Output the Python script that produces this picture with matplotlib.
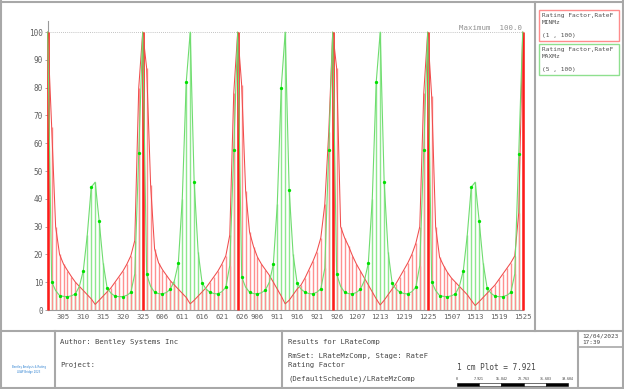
import numpy as np
import matplotlib
matplotlib.use('Agg')
import matplotlib.pyplot as plt
from matplotlib.lines import Line2D
from matplotlib.patches import Rectangle

W, H = 624, 389

# node numbering of the five spans and the labelled nodes
span_base = [300, 600, 900, 1200, 1500]
tick_nodes = [[305, 310, 315, 320, 325],
              [606, 611, 616, 621, 626],
              [906, 911, 916, 921, 926],
              [1207, 1213, 1219, 1225],
              [1507, 1513, 1519, 1525]]

# rating factor at the six supports (capped at 100)
support_rf = [100, 100, 100, 100, 100, 100]

# MINMz rating factor, interior nodes of each span
min_mz = [
    [66, 30, 20, 16.5, 14.2, 12, 10, 8.5, 7, 5.5, 4, 2, 3.5, 5, 6.5, 8, 10, 12, 14, 16.5, 19.5, 25, 80],
    [87, 45, 22, 17, 14.5, 12.5, 10.5, 9, 7.5, 6, 4.5, 2.2, 3.5, 5, 6.5, 8, 10, 12, 14, 16.5, 19.5, 27, 78],
    [81, 43, 28, 22.8, 19, 16.5, 14.5, 12.5, 10, 7.5, 5, 2.2, 3.5, 5.5, 7.5, 9, 11.5, 14.5, 17.5, 21, 26, 38, 64],
    [87, 30, 26, 23, 19.5, 16.5, 14, 11.5, 9, 6.5, 4, 1.8, 3.5, 5.5, 7.5, 9.5, 12, 14.5, 17, 20, 24, 30, 78],
    [77, 30, 19, 16, 13.5, 11.5, 10, 8.5, 7, 5.5, 3.5, 1.6, 3, 4.5, 6, 7.5, 9, 11, 13, 15, 17, 19.5, 35],
]

# MAXMz rating factor, interior nodes of each span
max_mz = [
    [10.2, 7, 5.2, 4.9, 4.8, 5.1, 5.8, 8.5, 14.2, 27, 44.2, 46, 32, 17, 8, 6, 5, 4.8, 4.8, 5.3, 6.3, 13, 56.4],
    [12.8, 8.5, 6.4, 5.9, 5.8, 6.3, 7.5, 10.5, 16.8, 40, 82, 100, 46, 21, 9.8, 7.5, 6.4, 5.9, 5.8, 6.6, 8.2, 16, 57.4],
    [11.9, 8.2, 6.4, 5.9, 5.8, 6.2, 7.2, 10, 16.4, 38, 80, 100, 43.2, 20, 9.8, 7.5, 6.4, 5.9, 5.8, 6.4, 7.6, 15, 57.5],
    [12.9, 8.5, 6.4, 5.9, 5.8, 6.3, 7.5, 10.5, 16.8, 40, 82.1, 100, 46, 21, 9.8, 7.5, 6.4, 5.9, 5.8, 6.6, 8.2, 16, 57.5],
    [10.2, 7, 5.2, 4.9, 4.8, 5.1, 5.8, 8.5, 14.2, 27, 44.2, 46, 32, 17, 8, 6, 5, 4.8, 4.8, 5.3, 6.3, 13, 56.2],
]

NSEG = len(min_mz[0]) + 1


def build(spans):
    vals = [support_rf[0]]
    for k, s in enumerate(spans):
        vals += s + [support_rf[k + 1]]
    return np.array(vals, float)


red = build(min_mz)
green = build(max_mz)
x = np.arange(len(red))
sup = np.arange(0, len(red), NSEG)
mk = np.array([k * NSEG + j for k in range(5) for j in range(1, NSEG, 2)])

tick_pos = [NSEG * k + (n - span_base[k] - 1) for k in range(5) for n in tick_nodes[k]]
tick_lab = [str(n) for row in tick_nodes for n in row]


def fx(px):
    return px / W


def fy(py):
    return 1 - py / H


fig = plt.figure(figsize=(W / 100, H / 100), dpi=100)
mono = 'DejaVu Sans Mono'

ax = fig.add_axes([fx(47.7), fy(310), (522.7 - 47.7) / W, (310 - 21) / H])
ax.set_xlim(0, x[-1])
ax.set_ylim(0, 104)

ax.vlines(x, 0, green, colors='#8ee88e', lw=1.0, clip_on=False)
ax.vlines(x, 0, red, colors='#ff9090', lw=1.0, clip_on=False)
ax.vlines(x[sup], 0, red[sup], colors='#ff1a1a', lw=1.8, clip_on=False, zorder=3)
ax.plot(x, red, color='#f04c4c', lw=0.75, clip_on=False, zorder=4)
ax.plot(x, green, color='#6fdc6f', lw=0.8, clip_on=False, zorder=4)
ax.plot(x[mk], green[mk], 'o', color='#00e000', ms=2.4, mec='none', zorder=5)
ax.axhline(100, color='#b0b0b0', ls=(0, (1, 1.5)), lw=0.6, zorder=1)

for s in ['top', 'right']:
    ax.spines[s].set_visible(False)
for s in ['left', 'bottom']:
    ax.spines[s].set_color('#9a9a9a')
    ax.spines[s].set_linewidth(0.8)
ax.set_yticks(np.arange(0, 101, 10))
ax.set_yticklabels([str(v) for v in range(0, 101, 10)], fontsize=5.6, family=mono, color='#606060')
ax.tick_params(axis='y', length=2, width=0.6, color='#9a9a9a', pad=1.5)
ax.set_xticks(tick_pos)
ax.set_xticklabels(tick_lab, fontsize=5.2, family=mono, color='#606060')
ax.tick_params(axis='x', length=0, pad=3)

fig.text(fx(522), fy(28.5), 'Maximum  100.0', fontsize=5.3, family=mono, color='#909090',
         ha='right', va='center')

# frames of the drawing sheet
def hline(y, x0, x1, lw=1.5):
    fig.add_artist(Line2D([fx(x0), fx(x1)], [fy(y), fy(y)], color='#a8a8a8', lw=lw))


def vline(xp, y0, y1, lw=1.5):
    fig.add_artist(Line2D([fx(xp), fx(xp)], [fy(y0), fy(y1)], color='#a8a8a8', lw=lw))


hline(1.5, 0, W)
hline(387.5, 0, W)
vline(1, 0, H)
vline(622.5, 0, H)
vline(535, 1.5, 331)
hline(331, 0, W)
vline(55, 331, 387.5)
vline(282, 331, 387.5)
vline(578, 331, 387.5)
hline(347, 578, 622.5, lw=1.2)

# legend boxes
legend_rows = [('Rating Factor,RateF', 'MINMz', '(1 , 100)', '#ff8c8c', 10),
               ('Rating Factor,RateF', 'MAXMz', '(5 , 100)', '#8fe08f', 43.5)]
for t1, t2, t3, col, top in legend_rows:
    fig.add_artist(Rectangle((fx(538.5), fy(top + 31)), (618.5 - 538.5) / W, 31 / H,
                             transform=fig.transFigure, fill=False, ec=col, lw=1.0))
    fig.text(fx(542), fy(top + 5.7), t1, fontsize=4.5, family=mono, color='#505050', va='center')
    fig.text(fx(542), fy(top + 12.7), t2, fontsize=4.5, family=mono, color='#505050', va='center')
    fig.text(fx(542), fy(top + 25.7), t3, fontsize=4.5, family=mono, color='#505050', va='center')

# title block
tb = dict(fontsize=5.2, family=mono, color='#454545', va='center')
fig.text(fx(60), fy(342), 'Author: Bentley Systems Inc', **tb)
fig.text(fx(60), fy(365.5), 'Project:', **tb)
fig.text(fx(288), fy(342), 'Results for LRateComp', **tb)
fig.text(fx(288), fy(356), 'RmSet: LRateMzComp, Stage: RateF', **tb)
fig.text(fx(288), fy(365), 'Rating Factor', **tb)
fig.text(fx(288), fy(379), '(DefaultSchedule)/LRateMzComp', **tb)
fig.text(fx(457), fy(368), '1 cm Plot = 7.921', fontsize=5.6, family=mono, color='#454545', va='center')
fig.text(fx(582), fy(336.5), '12/04/2023', fontsize=4.3, family=mono, color='#454545', va='center')
fig.text(fx(582), fy(342.5), '17:39', fontsize=4.3, family=mono, color='#454545', va='center')
fig.text(fx(28.5), fy(367), 'Bentley Analysis & Rating', fontsize=1.9, color='#2a7fd0',
         ha='center', va='center')
fig.text(fx(28.5), fy(371.5), 'LEAP Bridge 2023', fontsize=1.9, color='#2a7fd0',
         ha='center', va='center')

# scale bar
scale_marks = ['0', '7.921', '15.842', '23.763', '31.683', '39.604']
bx0, bx1 = 457, 568
seg = (bx1 - bx0) / (len(scale_marks) - 1)
for i in range(len(scale_marks) - 1):
    fig.add_artist(Rectangle((fx(bx0 + i * seg), fy(385.5)), seg / W, 3 / H,
                             transform=fig.transFigure,
                             fc='black' if i % 2 == 0 else 'white', ec='black', lw=0.4))
for i, m in enumerate(scale_marks):
    fig.text(fx(bx0 + i * seg), fy(379), m, fontsize=2.3, family=mono, color='#333333',
             ha='center', va='center')

fig.savefig('out.png', dpi=100)
